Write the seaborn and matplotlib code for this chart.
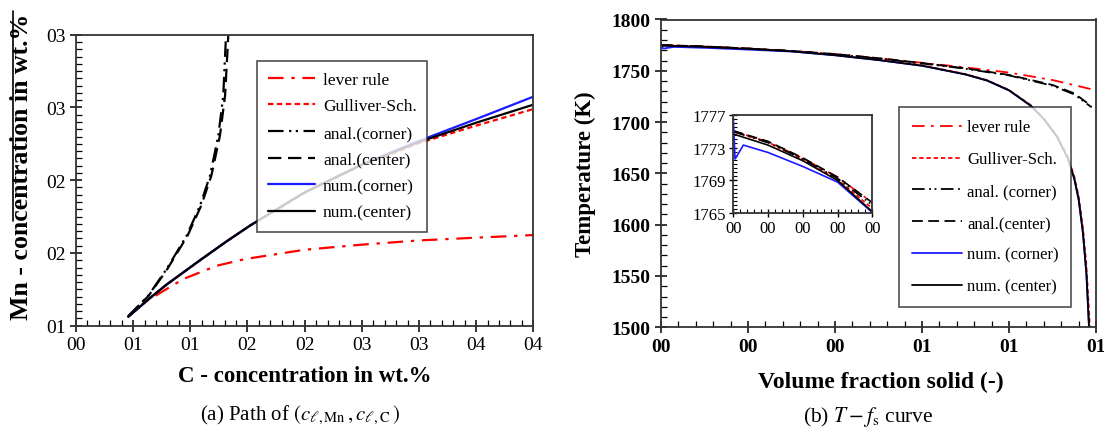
import numpy as np
import pandas as pd
import matplotlib
matplotlib.use("Agg")
import matplotlib.pyplot as plt
from matplotlib.lines import Line2D
from matplotlib.ticker import FixedLocator, FixedFormatter, MultipleLocator
import seaborn as sns

# ---------------- (a) liquid composition path: C (x) vs Mn (y), wt.% ----------------
lever_c = [0.0457, 0.0618, 0.0939, 0.1231, 0.1478, 0.20, 0.25, 0.30, 0.35, 0.40]
lever_mn = [0.1062, 0.1170, 0.1321, 0.1412, 0.1458, 0.1522, 0.1557, 0.1586, 0.1605, 0.1623]

gulliver_c = [0.0457, 0.0647, 0.0793, 0.1085, 0.1318, 0.1522, 0.20, 0.25, 0.30, 0.35, 0.40]
gulliver_mn = [0.1062, 0.1190, 0.1283, 0.1450, 0.1580, 0.1688, 0.1914, 0.2103, 0.2255, 0.2375, 0.2489]

anal_corner_c = [0.0457, 0.0632, 0.0793, 0.0968, 0.1085, 0.1172, 0.1245, 0.1288, 0.1312]
anal_corner_mn = [0.1065, 0.1206, 0.1390, 0.1619, 0.1825, 0.2031, 0.2306, 0.2581, 0.2993]

anal_center_c = [0.0457, 0.0636, 0.0799, 0.0976, 0.1095, 0.1184, 0.1259, 0.1304, 0.1332]
anal_center_mn = [0.1065, 0.1206, 0.1390, 0.1619, 0.1825, 0.2031, 0.2306, 0.2581, 0.2993]

num_corner_c = [0.0457, 0.0647, 0.0793, 0.1085, 0.1318, 0.1522, 0.20, 0.25, 0.30, 0.35, 0.40]
num_corner_mn = [0.1062, 0.1190, 0.1283, 0.1450, 0.1580, 0.1688, 0.1916, 0.2108, 0.2270, 0.2420, 0.2574]

num_center_c = [0.0457, 0.0647, 0.0793, 0.1085, 0.1318, 0.1522, 0.20, 0.25, 0.30, 0.35, 0.40]
num_center_mn = [0.1062, 0.1190, 0.1283, 0.1450, 0.1580, 0.1688, 0.1916, 0.2107, 0.2262, 0.2395, 0.2519]

c_ticks = [0.00, 0.05, 0.10, 0.15, 0.20, 0.25, 0.30, 0.35, 0.40]
c_tick_labels = ["00", "01", "01", "02", "02", "03", "03", "04", "04"]
mn_ticks = [0.10, 0.15, 0.20, 0.25, 0.30]
mn_tick_labels = ["01", "02", "02", "03", "03"]

# ---------------- (b) temperature vs volume fraction solid ----------------
lever_fs = [0.0, 0.1, 0.2, 0.3, 0.4, 0.5, 0.6, 0.7, 0.8, 0.9, 0.99]
lever_T = [1774.93, 1773.7, 1771.7, 1769.4, 1766.3, 1762.3, 1757.8, 1753.3, 1748.3, 1741.0, 1732.0]

gulliver_fs = [0.0, 0.1, 0.2, 0.3, 0.4, 0.5, 0.6, 0.7, 0.75, 0.8, 0.85, 0.88, 0.91, 0.935,
               0.95, 0.96, 0.97, 0.978, 0.986]
gulliver_T = [1775.0, 1773.65, 1771.6, 1769.1, 1765.6, 1761.0, 1755.4, 1746.8, 1740.8, 1731.3,
              1716.5, 1703.6, 1687.0, 1666.5, 1647.0, 1628.0, 1597.0, 1560.0, 1500.0]

anal_corner_fs = [0.0, 0.1, 0.2, 0.3, 0.4, 0.5, 0.6, 0.7, 0.8, 0.9, 0.95, 0.99]
anal_corner_T = [1774.95, 1773.6, 1771.6, 1769.25, 1766.0, 1762.0, 1757.2, 1752.0, 1745.5,
                 1735.5, 1727.0, 1714.4]

anal_center_fs = [0.0, 0.1, 0.2, 0.3, 0.4, 0.5, 0.6, 0.7, 0.8, 0.9, 0.95, 0.99]
anal_center_T = [1775.05, 1773.75, 1771.75, 1769.4, 1766.3, 1762.3, 1757.6, 1752.4, 1746.0,
                 1736.2, 1728.0, 1715.5]

num_corner_fs = [0.0, 0.005, 0.029, 0.1, 0.2, 0.3, 0.4, 0.5, 0.6, 0.7, 0.75, 0.8, 0.85, 0.88,
                 0.91, 0.935, 0.95, 0.96, 0.97, 0.978, 0.984]
num_corner_T = [1776.6, 1771.6, 1773.3, 1772.4, 1770.7, 1768.8, 1765.1, 1760.4, 1754.9, 1746.4,
                1740.4, 1730.9, 1715.9, 1702.9, 1685.9, 1664.9, 1644.9, 1624.9, 1591.9,
                1551.9, 1500.0]

num_center_fs = [0.0, 0.1, 0.2, 0.3, 0.4, 0.5, 0.6, 0.7, 0.75, 0.8, 0.85, 0.88, 0.91, 0.935,
                 0.95, 0.96, 0.97, 0.978, 0.984]
num_center_T = [1774.65, 1773.3, 1771.4, 1769.0, 1765.2, 1760.5, 1755.0, 1746.5, 1740.5, 1731.0,
                1716.0, 1703.0, 1686.0, 1665.0, 1645.0, 1625.0, 1592.0, 1552.0, 1500.0]

fs_ticks = [0.0, 0.2, 0.4, 0.6, 0.8, 1.0]
fs_tick_labels = ["00", "00", "00", "01", "01", "01"]
T_ticks = [1500, 1550, 1600, 1650, 1700, 1750, 1800]

inset_fs_ticks = [0.0, 0.1, 0.2, 0.3, 0.4]
inset_fs_tick_labels = ["00", "00", "00", "00", "00"]
inset_T_ticks = [1765, 1769, 1773, 1777]

series_names = ["lever rule", "Gulliver-Sch.", "anal.(corner)", "anal.(center)",
                "num.(corner)", "num.(center)"]
series_names_b = ["lever rule", "Gulliver-Sch.", "anal. (corner)", "anal.(center)",
                  "num. (corner)", "num. (center)"]

# ---------------- styling ----------------
sns.set_theme(style="ticks")
plt.rcParams["font.family"] = ["Liberation Serif", "DejaVu Serif"]
plt.rcParams["mathtext.fontset"] = "stix"
for key in ["text.color", "axes.labelcolor", "xtick.color", "ytick.color"]:
    plt.rcParams[key] = "black"

RED = "#ff0000"
BLUE = "#1a1aff"
styles = [
    dict(color=RED, linestyle=(0, (7, 3.5, 1.5, 3.5))),
    dict(color=RED, linestyle=(0, (2.4, 1.6))),
    dict(color="black", linestyle=(0, (7, 2.5, 1, 2, 1, 2.5))),
    dict(color="black", linestyle=(0, (6, 3))),
    dict(color=BLUE, linestyle="-"),
    dict(color="black", linestyle="-"),
]

W, H = 1104, 431
fig = plt.figure(figsize=(W / 100, H / 100), dpi=100)


def box(l, t, r, b):
    return [l / W, 1 - b / H, (r - l) / W, (b - t) / H]


axL = fig.add_axes(box(76, 35.7, 533.3, 326.7))
axR = fig.add_axes(box(661, 20.5, 1096, 328.3))
axI = fig.add_axes(box(733.3, 115.7, 872.3, 214.3))

# ---- panel (a)
data_a = [(lever_c, lever_mn), (gulliver_c, gulliver_mn), (anal_corner_c, anal_corner_mn),
          (anal_center_c, anal_center_mn), (num_corner_c, num_corner_mn),
          (num_center_c, num_center_mn)]
for (xs, ys), name, st in zip(data_a, series_names, styles):
    sns.lineplot(x=xs, y=ys, ax=axL, label=name, lw=1.6, estimator=None, sort=False, **st)

axL.set_xlim(0, 0.40)
axL.set_ylim(0.10, 0.30)
axL.xaxis.set_major_locator(FixedLocator(c_ticks))
axL.xaxis.set_major_formatter(FixedFormatter(c_tick_labels))
axL.yaxis.set_major_locator(FixedLocator(mn_ticks))
axL.yaxis.set_major_formatter(FixedFormatter(mn_tick_labels))
axL.xaxis.set_minor_locator(MultipleLocator(0.01))
axL.yaxis.set_minor_locator(MultipleLocator(0.005))
axL.set_xlabel("C - concentration in wt.%", fontsize=16.5, fontweight="bold")
axL.set_ylabel("Mn - concentration in wt.%", fontsize=18.5, fontweight="bold")
axL.xaxis.set_label_coords(0.5, -0.135)
axL.yaxis.set_label_coords(-0.093, 0.55)

legL = axL.legend(loc="upper left", bbox_to_anchor=(257 / W, 1 - 62 / H),
                  bbox_transform=fig.transFigure, borderaxespad=0, frameon=True,
                  fancybox=False, framealpha=0.8, edgecolor="#222222", fontsize=12.5,
                  handlelength=2.7, handletextpad=0.48, labelspacing=0.6, borderpad=0.62)
legL.get_frame().set_linewidth(1.2)

# ---- panel (b)
data_b = [(lever_fs, lever_T), (gulliver_fs, gulliver_T), (anal_corner_fs, anal_corner_T),
          (anal_center_fs, anal_center_T), (num_corner_fs, num_corner_T),
          (num_center_fs, num_center_T)]
for (xs, ys), name, st in zip(data_b, series_names_b, styles):
    sns.lineplot(x=xs, y=ys, ax=axR, label=name, lw=1.3, estimator=None, sort=False, **st)
    sns.lineplot(x=xs, y=ys, ax=axI, lw=1.2, estimator=None, sort=False, legend=False, **st)

axR.set_xlim(0, 1)
axR.set_ylim(1500, 1800)
axR.xaxis.set_major_locator(FixedLocator(fs_ticks))
axR.xaxis.set_major_formatter(FixedFormatter(fs_tick_labels))
axR.yaxis.set_major_locator(FixedLocator(T_ticks))
axR.xaxis.set_minor_locator(MultipleLocator(0.04))
axR.yaxis.set_minor_locator(MultipleLocator(10))
axR.set_xlabel("Volume fraction solid (-)", fontsize=17, fontweight="bold")
axR.set_ylabel("Temperature (K)", fontsize=16.5, fontweight="bold")
axR.xaxis.set_label_coords(0.505, -0.142)
axR.yaxis.set_label_coords(-0.15, 0.5)

legR = axR.legend(loc="upper left", bbox_to_anchor=(899 / W, 1 - 108 / H),
                  bbox_transform=fig.transFigure, borderaxespad=0, frameon=True,
                  fancybox=False, framealpha=0.8, edgecolor="#222222", fontsize=12,
                  handlelength=3.0, handletextpad=0.35, labelspacing=0.95, borderpad=0.75)
legR.get_frame().set_linewidth(1.2)

# ---- inset: early part of the solidification
axI.set_xlim(0, 0.4)
axI.set_ylim(1765, 1777)
axI.xaxis.set_major_locator(FixedLocator(inset_fs_ticks))
axI.xaxis.set_major_formatter(FixedFormatter(inset_fs_tick_labels))
axI.yaxis.set_major_locator(FixedLocator(inset_T_ticks))
axI.xaxis.set_minor_locator(MultipleLocator(0.02))
axI.yaxis.set_minor_locator(MultipleLocator(0.5))
axI.set_xlabel("")
axI.set_ylabel("")

for ax, lsize, bold in [(axL, 14, False), (axR, 14, True)]:
    ax.tick_params(which="major", direction="inout", length=9, width=1.1,
                   labelsize=lsize, pad=3, top=False, right=False)
    ax.tick_params(which="minor", direction="in", length=4, width=0.9,
                   top=False, right=False)
    if bold:
        for lab in ax.get_xticklabels() + ax.get_yticklabels():
            lab.set_fontweight("bold")
axI.tick_params(which="major", direction="inout", length=6, width=1.0, labelsize=12, pad=2)
axI.tick_params(which="minor", direction="in", length=3, width=0.8)

for ax in (axL, axR, axI):
    for sp in ax.spines.values():
        sp.set_visible(True)
        sp.set_color("#333333")
        sp.set_linewidth(1.3)

# captions under the panels
fig.text(300 / W, 1 - 415 / H, r"(a) Path of $(c_{\ell,\mathrm{Mn}}\,,c_{\ell,\mathrm{C}}\,)$",
         ha="center", va="center", fontsize=15)
fig.text(868 / W, 1 - 417 / H, r"(b) $T - f_{\mathrm{s}}$ curve",
         ha="center", va="center", fontsize=15.5)

# rule beside the left axis title
fig.add_artist(Line2D([12.7 / W, 12.7 / W], [1 - 12 / H, 1 - 222 / H], color="black", lw=1.2))

fig.savefig("out.png", dpi=100)
